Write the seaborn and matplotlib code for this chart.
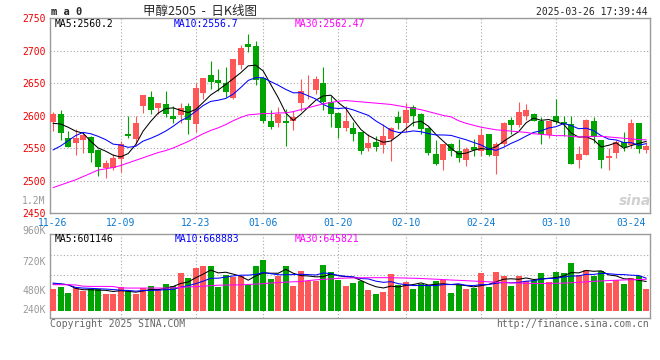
import matplotlib
matplotlib.use('Agg')

import matplotlib.pyplot as plt
import seaborn as sns
import numpy as np

# ---- data ---------------------------------------------------------------
dates = ['11-26', '12-09', '12-23', '01-06', '01-20', '02-10', '02-24', '03-10', '03-24']
date_pos = [0, 9, 19, 28, 38, 47, 57, 67, 77]

open_ = [2590, 2602, 2566, 2558, 2562, 2567, 2547, 2519, 2520, 2533,
         2572, 2564, 2614, 2628, 2612, 2618, 2600, 2601, 2615, 2587,
         2635, 2662, 2655, 2650, 2627, 2678, 2710, 2707, 2657, 2592,
         2588, 2592, 2591, 2620, 2637, 2640, 2650, 2621, 2604, 2581,
         2581, 2574, 2550, 2560, 2555, 2564, 2597, 2589, 2613, 2602,
         2581, 2541, 2532, 2556, 2546, 2531, 2551, 2546, 2571, 2538,
         2556, 2593, 2585, 2600, 2603, 2592, 2570, 2599, 2590, 2587,
         2532, 2539, 2592, 2563, 2535, 2543, 2560, 2555, 2588, 2547]
high = [2606, 2609, 2576, 2579, 2574, 2568, 2549, 2532, 2541, 2561,
        2599, 2600, 2632, 2638, 2620, 2638, 2615, 2620, 2620, 2650,
        2658, 2684, 2671, 2675, 2687, 2709, 2725, 2714, 2660, 2609,
        2613, 2610, 2607, 2656, 2663, 2661, 2674, 2630, 2606, 2615,
        2590, 2575, 2572, 2569, 2587, 2583, 2607, 2619, 2616, 2604,
        2582, 2562, 2556, 2558, 2564, 2551, 2564, 2581, 2572, 2559,
        2590, 2597, 2621, 2618, 2604, 2597, 2592, 2625, 2599, 2599,
        2553, 2594, 2598, 2563, 2550, 2562, 2575, 2594, 2588, 2559]
low = [2576, 2562, 2551, 2539, 2542, 2528, 2507, 2504, 2516, 2513,
       2565, 2556, 2604, 2603, 2603, 2597, 2589, 2589, 2571, 2575,
       2626, 2641, 2637, 2629, 2625, 2672, 2697, 2647, 2588, 2580,
       2582, 2553, 2577, 2607, 2625, 2633, 2609, 2582, 2565, 2576,
       2561, 2541, 2545, 2545, 2543, 2530, 2580, 2574, 2584, 2571,
       2539, 2524, 2516, 2538, 2528, 2523, 2538, 2537, 2538, 2510,
       2553, 2572, 2582, 2593, 2591, 2556, 2565, 2587, 2569, 2525,
       2519, 2539, 2557, 2520, 2516, 2535, 2545, 2550, 2542, 2542]
close = [2603, 2573, 2552, 2566, 2570, 2542, 2521, 2527, 2535, 2556,
         2568, 2589, 2632, 2609, 2620, 2603, 2595, 2612, 2593, 2643,
         2658, 2652, 2650, 2636, 2687, 2704, 2705, 2655, 2591, 2583,
         2602, 2588, 2598, 2638, 2638, 2656, 2621, 2603, 2581, 2592,
         2571, 2545, 2557, 2552, 2569, 2581, 2588, 2609, 2599, 2579,
         2542, 2525, 2556, 2546, 2535, 2548, 2547, 2570, 2539, 2556,
         2589, 2585, 2606, 2608, 2592, 2572, 2591, 2590, 2587, 2525,
         2541, 2593, 2567, 2532, 2538, 2560, 2551, 2588, 2548, 2553]

ma5 = [2588, 2587, 2582, 2576, 2572.8, 2560.6, 2550.2, 2545.2, 2539.0, 2536.2,
       2541.4, 2555.0, 2576.0, 2590.8, 2603.6, 2610.6, 2611.8, 2607.8, 2604.6, 2609.2,
       2620.2, 2631.6, 2639.2, 2647.8, 2656.6, 2665.8, 2676.4, 2677.4, 2668.4, 2647.6,
       2627.2, 2603.8, 2592.4, 2601.8, 2612.8, 2623.6, 2630.2, 2631.2, 2619.8, 2610.6,
       2593.6, 2578.4, 2569.2, 2563.4, 2558.8, 2560.8, 2569.4, 2579.8, 2589.2, 2591.2,
       2583.4, 2570.8, 2560.2, 2549.6, 2540.8, 2542.0, 2546.4, 2549.2, 2547.8, 2552.0,
       2560.2, 2567.8, 2575.0, 2588.8, 2596.0, 2592.6, 2593.8, 2590.6, 2586.4, 2573.0,
       2566.8, 2567.2, 2562.6, 2551.6, 2554.2, 2558.0, 2549.6, 2553.8, 2557.0, 2560.2]
ma10 = [2547, 2553, 2561, 2569, 2574, 2572, 2568, 2563, 2556, 2554.5,
        2551.0, 2552.6, 2560.6, 2564.9, 2569.9, 2576.0, 2583.4, 2591.9, 2597.7, 2606.4,
        2615.4, 2621.7, 2623.5, 2626.2, 2632.9, 2643.0, 2654.0, 2658.3, 2658.1, 2652.1,
        2646.5, 2640.1, 2634.9, 2635.1, 2630.2, 2625.4, 2617.0, 2611.8, 2610.8, 2611.7,
        2608.6, 2604.3, 2600.2, 2591.6, 2584.7, 2577.2, 2573.9, 2574.5, 2576.3, 2575.0,
        2572.1, 2570.1, 2570.0, 2569.4, 2566.0, 2562.7, 2558.6, 2554.7, 2548.7, 2546.4,
        2551.1, 2557.1, 2562.1, 2568.3, 2574.0, 2576.4, 2580.8, 2582.8, 2587.6, 2584.5,
        2579.7, 2580.5, 2576.6, 2569.0, 2563.6, 2562.4, 2558.4, 2558.2, 2554.3, 2556.7]
ma30 = [2489, 2493, 2497, 2501, 2506, 2511, 2516, 2518, 2520, 2523,
        2527, 2531, 2535, 2539, 2543, 2546, 2550, 2555, 2560, 2566,
        2572, 2577, 2581, 2586, 2592, 2597, 2601, 2602, 2603, 2603,
        2604, 2604, 2606, 2609, 2612, 2615, 2618, 2620, 2622, 2623,
        2622, 2621, 2620, 2619, 2618, 2617, 2615, 2613, 2611, 2609,
        2606, 2603, 2600, 2598, 2592, 2588, 2585, 2582, 2580, 2578,
        2577, 2576, 2575, 2574, 2572, 2571, 2570, 2569, 2569, 2568,
        2567, 2567, 2568, 2568, 2567, 2566, 2565, 2564, 2563, 2562.5]

# volume in thousands of lots
volume = [446, 487, 364, 466, 398, 446, 446, 343, 343, 480,
          398, 343, 466, 515, 446, 549, 515, 775, 672, 878,
          926, 926, 487, 741, 686, 707, 521, 926, 1050, 652,
          707, 926, 515, 809, 617, 617, 947, 789, 638, 515,
          569, 604, 432, 350, 384, 755, 521, 590, 446, 549,
          535, 604, 638, 364, 535, 446, 466, 775, 480, 796,
          720, 515, 720, 617, 638, 775, 590, 796, 775, 988,
          741, 844, 707, 823, 569, 638, 549, 672, 707, 446]
vol_ma5 = [549, 549, 535, 460, 432, 432, 424, 420, 395, 412,
           402, 381, 406, 440, 434, 464, 498, 560, 591, 678,
           753, 836, 778, 792, 753, 709, 628, 716, 778, 771,
           771, 852, 770, 722, 715, 697, 701, 756, 722, 701,
           691, 623, 552, 494, 468, 505, 488, 520, 539, 572,
           528, 545, 554, 538, 535, 517, 490, 517, 541, 593,
           648, 657, 646, 674, 642, 653, 668, 683, 715, 785,
           778, 829, 811, 820, 737, 716, 657, 650, 627, 601]
vol_ma10 = [569, 552, 535, 480, 466, 460, 452, 446, 435, 422,
            417, 403, 413, 418, 423, 433, 440, 483, 516, 556,
            608, 667, 669, 691, 716, 731, 732, 747, 785, 762,
            740, 740, 743, 750, 743, 734, 777, 763, 722, 708,
            694, 662, 654, 608, 584, 598, 556, 536, 517, 520,
            517, 517, 537, 539, 554, 523, 517, 536, 539, 564,
            582, 573, 582, 607, 617, 650, 663, 665, 694, 713,
            716, 748, 747, 768, 761, 747, 743, 731, 724, 669]
vol_ma30 = [535, 535, 535, 530, 505, 500, 500, 500, 498, 470,
            466, 466, 466, 466, 466, 466, 470, 480, 490, 495,
            505, 515, 525, 528, 530, 532, 540, 548, 556, 570,
            580, 588, 595, 600, 620, 635, 645, 655, 665, 672,
            675, 677, 679, 680, 680, 678, 675, 672, 668, 663,
            655, 648, 640, 632, 625, 618, 610, 602, 595, 588,
            580, 574, 568, 564, 561, 560, 561, 564, 568, 575,
            584, 594, 604, 612, 620, 627, 633, 638, 642, 646]

# ---- style ---------------------------------------------------------------
sns.set_theme(style='white')
plt.rcParams['font.family'] = ['DejaVu Sans Mono', 'Noto Sans CJK SC']

RED = '#ff5757'
GREEN = '#00a400'
GRID = '#a8a8a8'
BORDER = '#9a9a9a'
BLUE_LBL = '#0a78d0'
LW = 0.75

W, H = 660, 360
fig = plt.figure(figsize=(W / 100, H / 100), dpi=100, facecolor='white')


def box(left, top, right, bottom):
    return [left / W, 1 - bottom / H, (right - left) / W, (bottom - top) / H]


def ftext(px, py, s, **kw):
    fig.text(px / W, 1 - py / H, s, **kw)


ax = fig.add_axes(box(50, 18, 650, 213))
axv = fig.add_axes(box(50, 234.3, 650, 318.3))

x = np.arange(len(close))
o = np.array(open_)
c = np.array(close)
colors = np.where(c >= o, RED, GREEN)

# ---- price panel -----------------------------------------------------------
ax.vlines(x, low, high, colors=colors, linewidth=0.8, zorder=2)
ax.bar(x, np.maximum(np.abs(c - o), 1.2), bottom=np.minimum(o, c),
       width=0.8, color=colors, linewidth=0, zorder=3)

sns.lineplot(x=x, y=ma5, ax=ax, color='black', linewidth=LW, zorder=4)
sns.lineplot(x=x, y=ma10, ax=ax, color='#0000ff', linewidth=LW, zorder=4)
sns.lineplot(x=x, y=ma30, ax=ax, color='#ff00ff', linewidth=LW, zorder=4)

ax.set_xlim(-0.4, 79.5)
ax.set_ylim(2450, 2750)
ax.set_yticks(range(2450, 2751, 50))
ax.set_xticks(date_pos)
ax.set_xticklabels(dates)
ax.tick_params(axis='y', length=0, pad=3, labelsize=7, labelcolor='#ee0000')
ax.tick_params(axis='x', length=0, pad=3.5, labelsize=7, labelcolor=BLUE_LBL)
ax.set_xlabel('')
ax.set_ylabel('')

# ---- volume panel --------------------------------------------------------
axv.bar(x, volume, width=0.8, color=colors, linewidth=0, zorder=3)
sns.lineplot(x=x, y=vol_ma5, ax=axv, color='black', linewidth=LW, zorder=4)
sns.lineplot(x=x, y=vol_ma10, ax=axv, color='#0000ff', linewidth=LW, zorder=4)
sns.lineplot(x=x, y=vol_ma30, ax=axv, color='#ff00ff', linewidth=LW, zorder=4)
axv.set_xlim(-0.4, 79.5)
axv.set_ylim(-156, 1572)
axv.set_yticks([317, 729, 1140])
axv.set_xticks([])
axv.tick_params(axis='y', length=0, labelleft=False)
axv.set_xlabel('')
axv.set_ylabel('')

for a in (ax, axv):
    a.set_axisbelow(True)
    a.grid(axis='y', linestyle=(0, (1, 2)), color=GRID, linewidth=0.8)
    a.grid(axis='x', visible=False)
    for p in date_pos[1:-1]:
        a.axvline(p, linestyle=(0, (1, 2)), color=GRID, linewidth=0.8, zorder=0.5)
    for s in a.spines.values():
        s.set_color(BORDER)
        s.set_linewidth(1.0)
        s.set_visible(True)

# ---- texts -----------------------------------------------------------------
ftext(51, 12, 'm a 0', fontsize=7.5, fontweight='bold', va='center', ha='left')
ftext(200, 11.5, '甲醇2505  -  日K线图', fontsize=9, va='center', ha='center',
      family=['Noto Sans CJK SC', 'DejaVu Sans'])
ftext(648, 12, '2025-03-26 17:39:44', fontsize=7, va='center', ha='right')

ftext(55, 24, 'MA5:2560.2', fontsize=7, color='black', va='center')
ftext(174, 24, 'MA10:2556.7', fontsize=7, color='#0000ff', va='center')
ftext(295, 24, 'MA30:2562.47', fontsize=7, color='#ff00ff', va='center')

ftext(55, 238.5, 'MA5:601146', fontsize=7, color='black', va='center')
ftext(175, 238.5, 'MA10:668883', fontsize=7, color='#0000ff', va='center')
ftext(295, 238.5, 'MA30:645821', fontsize=7, color='#ff00ff', va='center')

ftext(45, 201, '1.2M', fontsize=7, color='#999999', va='center', ha='right')
for lbl, py in [('960K', 231), ('720K', 262), ('480K', 291), ('240K', 310)]:
    ftext(46, py, lbl, fontsize=7, color='#999999', va='center', ha='right')

ftext(50, 324, 'Copyright 2025 SINA.COM', fontsize=7, color='#666666', va='center', ha='left')
ftext(649, 324, 'http://finance.sina.com.cn', fontsize=7, color='#666666', va='center', ha='right')
ftext(635, 201, 'sina', fontsize=10, color='#d0d0d0', fontweight='bold',
      style='italic', va='center', ha='center', family='DejaVu Sans')

fig.savefig('out.png', dpi=100, facecolor='white')
plt.close(fig)
